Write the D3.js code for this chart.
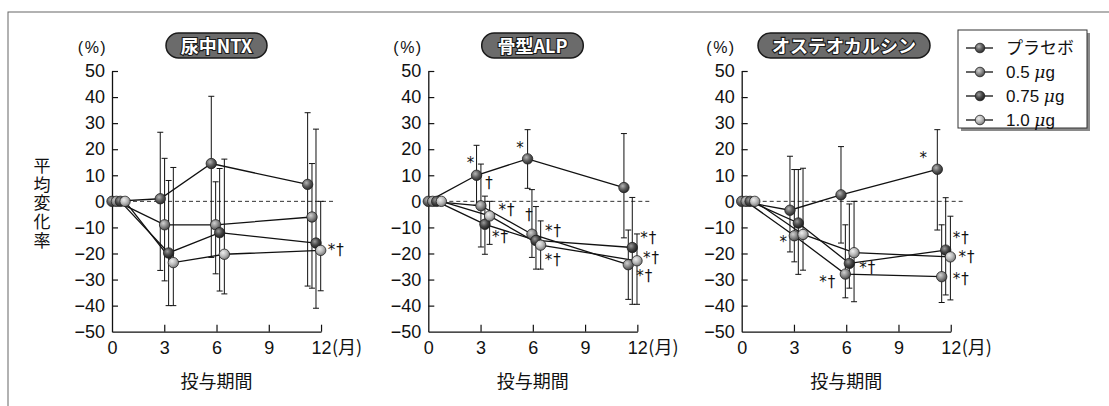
<!DOCTYPE html>
<html><head><meta charset="utf-8">
<script src="https://cdn.jsdelivr.net/npm/d3@7"></script>
<style>
html,body{margin:0;padding:0;background:#fff;}
svg{display:block;}
</style></head>
<body>
<svg id="chart" width="1109" height="406"></svg>
<script>
// ---------------- DATA ----------------
const panelTitles = ["尿中NTX", "骨型ALP", "オステオカルシン"];
const seriesNames = ["プラセボ", "0.5 μg", "0.75 μg", "1.0 μg"];
const timepoints = [0, 2.77, 5.7, 11.23];          // months of measurement
const xTicks = [0, 3, 6, 9, 12];
const yTicks = [50, 40, 30, 20, 10, 0, -10, -20, -30, -40, -50];

// 尿中NTX  (mean, upper SD end, lower SD end)
const ntxMean  = [[0, 1, 14.5, 6.5], [0, -9, -9, -6], [0, -19.8, -12, -16], [0, -23.5, -20.3, -18.8]];
const ntxUpper = [[null, 26.5, 40.3, 34], [null, 16.5, 7.5, 14.5], [null, 8, 12.6, 27.7], [null, 13, 16.2, 0]];
const ntxLower = [[null, -26.5, -21.5, -32.5], [null, -30.5, -27.8, -33.3], [null, -40, -34.4, -41], [null, -40, -35.5, -34.3]];

// 骨型ALP
const alpMean  = [[0, 10, 16.3, 5.3], [0, -1.7, -12.6, -24.3], [0, -8.8, -15, -17.7], [0, -5.6, -16.8, -22.8]];
const alpUpper = [[null, 21.5, 27.5, 26], [null, 14.3, 4.5, -11], [null, 2, -2, 1.5], [null, 0, -7.5, -12.5]];
const alpLower = [[null, -1.5, 5, -14], [null, -17.5, -21.5, -37.6], [null, -20.3, -26, -39.5], [null, -16.5, -26, -39.5]];

// オステオカルシン
const ocMean  = [[0, -3.4, 2.5, 12.3], [0, -13.2, -27.9, -28.9], [0, -8.3, -23.8, -18.7], [0, -12.7, -19.7, -21.3]];
const ocUpper = [[null, 17.3, 21, 27.5], [null, 12.2, -9, -9], [null, 12.2, -1, 1.4], [null, 12.7, 0, -5.7]];
const ocLower = [[null, -19.4, -16, -11], [null, -23.2, -37, -38.8], [null, -28, -33.3, -35.9], [null, -26.4, -38.5, -37.8]];

// significance marks: [panel, series, time index, label]
const marks = [
  [0, 3, 3, "*†"],
  [1, 0, 1, "*"], [1, 0, 2, "*"], [1, 1, 1, "†"], [1, 3, 1, "*†"], [1, 2, 1, "*†"],
  [1, 1, 2, "†"], [1, 2, 2, "*†"], [1, 3, 2, "*†"],
  [1, 2, 3, "*†"], [1, 3, 3, "*†"], [1, 1, 3, "*†"],
  [2, 0, 3, "*"], [2, 1, 1, "*"], [2, 1, 2, "*†"], [2, 2, 2, "*†"],
  [2, 2, 3, "*†"], [2, 3, 3, "*†"], [2, 1, 3, "*†"]
];

// ---------------- LAYOUT / STYLE ----------------
const markOffsets = [
  [7, 0, "start"],
  [-6, -12, "middle"], [-7.5, -11, "middle"], [7, -23, "middle"], [9, -6, "start"], [7, 13, "start"],
  [-4, -19, "middle"], [9, -9, "start"], [4, 15, "start"],
  [8, -9, "start"], [6, -3, "start"], [8, 11, "start"],
  [-14, -11, "middle"], [-11, 6, "middle"], [-10, 8, "end"], [10, 5, "start"],
  [7, -12, "start"], [8, 0, "start"], [11, 2, "start"]
];
const panelData = [
  {mean: ntxMean, up: ntxUpper, lo: ntxLower},
  {mean: alpMean, up: alpUpper, lo: alpLower},
  {mean: ocMean, up: ocUpper, lo: ocLower}
];
const panelX0 = [112, 428.3, 741.7];
const panelPill = [[166, 101], [481.7, 101.6], [758, 172]];
const panelPct = [92.5, 408, 721];
const dodge = [0, 0.25, 0.48, 0.75];
const pxPerMonth = 17.42;
const fills = [["#b4b4b4", "#5e5e5e", "#2e2e2e"], ["#d0d0d0", "#8a8a8a", "#4a4a4a"],
               ["#9a9a9a", "#474747", "#1e1e1e"], ["#eeeeee", "#b9b9b9", "#7a7a7a"]];
const latin = "'Liberation Sans', Arial, 'Noto Sans CJK JP', sans-serif";
const cjk = "'Noto Sans CJK JP', 'Liberation Sans', sans-serif";

const svg = d3.select("#chart");
const defs = svg.append("defs");
fills.forEach((c, i) => {
  const g = defs.append("radialGradient").attr("id", "ball" + i)
    .attr("cx", "38%").attr("cy", "35%").attr("r", "65%");
  g.append("stop").attr("offset", "0%").attr("stop-color", c[0]);
  g.append("stop").attr("offset", "55%").attr("stop-color", c[1]);
  g.append("stop").attr("offset", "100%").attr("stop-color", c[2]);
});

// outer frame
svg.append("rect").attr("x", 8).attr("y", 12).attr("width", 1120).attr("height", 420)
  .attr("fill", "none").attr("stroke", "#666").attr("stroke-width", 1);

const y = d3.scaleLinear().domain([-50, 50]).range([331.7, 71]);

panelData.forEach((pd, p) => {
  const x0 = panelX0[p];
  const x = d3.scaleLinear().domain([0, 12]).range([x0, x0 + 12 * pxPerMonth]);
  const g = svg.append("g");

  // zero dashed line
  g.append("line").attr("x1", x(0)).attr("x2", x(12.85)).attr("y1", y(0)).attr("y2", y(0))
    .attr("stroke", "#333").attr("stroke-width", 1).attr("stroke-dasharray", "4,3");

  // axes
  const ya = g.append("g").attr("transform", `translate(${x(0)},0)`)
    .call(d3.axisLeft(y).tickValues(yTicks).tickSizeInner(-6).tickSizeOuter(0).tickPadding(7));
  const xa = g.append("g").attr("transform", `translate(0,${y(-50)})`)
    .call(d3.axisBottom(x).tickValues(xTicks).tickSizeInner(-7).tickSizeOuter(0).tickPadding(10));
  [ya, xa].forEach(a => {
    a.select(".domain").attr("stroke", "#111").attr("stroke-width", 1.3);
    a.selectAll(".tick line").attr("stroke", "#111").attr("stroke-width", 1.2);
    a.selectAll("text").attr("font-family", latin).attr("font-size", 18).attr("fill", "#111");
  });
  xa.selectAll(".tick").filter(d => d === 0).select("line").remove();
  ya.selectAll(".tick").filter(d => d === -50).select("line").remove();
  // (月) after 12
  g.append("text").attr("x", x(12) + 11).attr("y", y(-50) + 10).attr("dy", "0.71em")
    .attr("font-family", cjk).attr("font-size", 18).attr("fill", "#111").text("(月)");

  // axis title
  g.append("text").attr("x", x(6)).attr("y", 388).attr("text-anchor", "middle")
    .attr("font-family", cjk).attr("font-size", 18).attr("fill", "#111").text("投与期間");

  // (%)
  g.append("text").attr("x", panelPct[p]).attr("y", 53).attr("text-anchor", "middle")
    .attr("font-family", latin).attr("font-size", 16).attr("letter-spacing", 1.5)
    .attr("fill", "#111").text("(%)");

  // title pill
  const [px, pw] = panelPill[p];
  g.append("rect").attr("x", px).attr("y", 33).attr("width", pw).attr("height", 25)
    .attr("rx", 12.5).attr("fill", "#6b6b6b").attr("stroke", "#1a1a1a").attr("stroke-width", 1.5);
  g.append("text").attr("x", px + pw / 2).attr("y", 52.5).attr("text-anchor", "middle")
    .attr("font-family", cjk).attr("font-weight", "bold").attr("font-size", 18)
    .attr("fill", "#fff").attr("stroke", "#1a1a1a").attr("stroke-width", 2.2)
    .attr("paint-order", "stroke").text(panelTitles[p]);

  const xs = (s, t) => x(timepoints[t] + dodge[s]);

  // error bars
  pd.mean.forEach((vals, s) => {
    vals.forEach((v, t) => {
      const hi = pd.up[s][t], lo = pd.lo[s][t];
      if (hi === null) return;
      const cx = xs(s, t);
      g.append("line").attr("x1", cx).attr("x2", cx).attr("y1", y(hi)).attr("y2", y(lo))
        .attr("stroke", "#111").attr("stroke-width", 1);
      [hi, lo].forEach(e => g.append("line").attr("x1", cx - 3).attr("x2", cx + 3)
        .attr("y1", y(e)).attr("y2", y(e)).attr("stroke", "#111").attr("stroke-width", 1));
    });
  });

  // lines
  const line = d3.line().x(d => d[0]).y(d => d[1]);
  pd.mean.forEach((vals, s) => {
    g.append("path").attr("d", line(vals.map((v, t) => [xs(s, t), y(v)])))
      .attr("fill", "none").attr("stroke", "#111").attr("stroke-width", 1.3);
  });
  // points
  pd.mean.forEach((vals, s) => {
    vals.forEach((v, t) => {
      g.append("circle").attr("cx", xs(s, t)).attr("cy", y(v)).attr("r", 5.2)
        .attr("fill", `url(#ball${s})`).attr("stroke", "#222").attr("stroke-width", 0.8);
    });
  });

  // significance marks
  marks.forEach((m, i) => {
    if (m[0] !== p) return;
    const [, s, t, label] = m;
    const [dx, dy, anchor] = markOffsets[i];
    const tx = g.append("text").attr("x", xs(s, t) + dx).attr("y", y(pd.mean[s][t]) + dy + 5)
      .attr("text-anchor", anchor).attr("font-family", "'DejaVu Sans', sans-serif").attr("fill", "#111");
    for (const ch of label) {
      if (ch === "*") tx.append("tspan").attr("font-size", 15).text("*");
      else tx.append("tspan").attr("font-size", 15).attr("dx", 1).attr("fill", "#111").text("†");
    }
  });
});

// y title (vertical, one text element)
svg.append("text").attr("x", 42).attr("y", 157)
  .style("writing-mode", "vertical-rl").style("glyph-orientation-vertical", "0")
  .attr("font-family", cjk).attr("font-size", 17).attr("letter-spacing", 1.7)
  .attr("fill", "#111").text("平均変化率");

// legend
const lg = svg.append("g");
lg.append("rect").attr("x", 961).attr("y", 33).attr("width", 129).attr("height", 98).attr("fill", "#8a8a8a");
lg.append("rect").attr("x", 958).attr("y", 30).attr("width", 129).attr("height", 98)
  .attr("fill", "#fff").attr("stroke", "#333").attr("stroke-width", 1);
seriesNames.forEach((name, i) => {
  const ly = 48 + i * 24;
  lg.append("line").attr("x1", 966).attr("x2", 993).attr("y1", ly).attr("y2", ly)
    .attr("stroke", "#111").attr("stroke-width", 1.3);
  lg.append("circle").attr("cx", 980).attr("cy", ly).attr("r", 4.8)
    .attr("fill", `url(#ball${i})`).attr("stroke", "#222").attr("stroke-width", 0.8);
  const t = lg.append("text").attr("x", 1006).attr("y", ly + 6).attr("font-size", 17)
    .attr("fill", "#111").attr("font-family", i === 0 ? cjk : latin);
  if (i === 0) t.text(name);
  else {
    const [num] = name.split(" ");
    t.append("tspan").text(num + " ");
    t.append("tspan").attr("font-style", "italic").attr("font-family", "'DejaVu Serif', serif").text("μ");
    t.append("tspan").text("g");
  }
});
</script>
</body></html>
